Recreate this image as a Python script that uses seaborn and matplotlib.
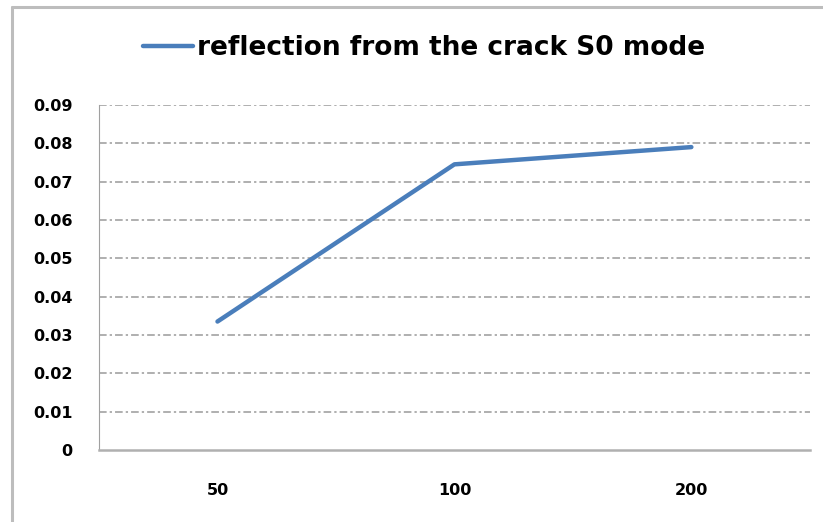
import matplotlib
matplotlib.use('Agg')
import matplotlib.pyplot as plt
import seaborn as sns
import pandas as pd
from matplotlib.lines import Line2D
from matplotlib.ticker import FixedLocator

categories = ['50', '100', '200']
values = [0.0335, 0.0745, 0.079]
series_name = 'reflection from the crack S0 mode'
y_ticks = [0, 0.01, 0.02, 0.03, 0.04, 0.05, 0.06, 0.07, 0.08, 0.09]
y_labels = ['0', '0.01', '0.02', '0.03', '0.04', '0.05', '0.06', '0.07', '0.08', '0.09']

df = pd.DataFrame({'freq': categories, 'value': values})

sns.set_style('white')
plt.rcParams['font.family'] = ['DejaVu Sans']
plt.rcParams['font.weight'] = 'bold'
plt.rcParams['text.color'] = 'black'
plt.rcParams['xtick.labelcolor'] = 'black'
plt.rcParams['ytick.labelcolor'] = 'black'

fig = plt.figure(figsize=(8.23, 5.22), dpi=100)
ax = fig.add_axes([0.1203, 0.138, 0.8637, 0.661])

sns.lineplot(data=df, x='freq', y='value', ax=ax, color='#4a7ebb', linewidth=3.2,
             label=series_name, sort=False)

ax.set_xlim(-0.5, 2.5)
ax.set_ylim(0, 0.09)
ax.set_yticks(y_ticks)
ax.set_yticklabels(y_labels)
ax.set_xticks(range(len(categories)))
ax.set_xticklabels(categories)
ax.xaxis.set_minor_locator(FixedLocator([-0.5, 0.5, 1.5, 2.5]))
ax.tick_params(axis='x', which='major', length=0, pad=24, labelsize=11.5)
ax.tick_params(axis='x', which='minor', length=5, color='#a0a0a0', width=1.2, direction='out')
ax.tick_params(axis='y', length=5, color='#a0a0a0', width=1, direction='out', pad=14, labelsize=11.5)
ax.set_xlabel('')
ax.set_ylabel('')

for y in y_ticks[1:]:
    ax.axhline(y, color='#9a9a9a', linewidth=1.1, linestyle=(0, (5, 2, 1.5, 2)), zorder=0)

for side in ['top', 'right']:
    ax.spines[side].set_visible(False)
ax.spines['left'].set_color('#a0a0a0')
ax.spines['bottom'].set_color('#b0b0b0')
ax.spines['bottom'].set_linewidth(1.8)

leg = ax.legend(loc='center', bbox_to_anchor=(0.515, 0.908), bbox_transform=fig.transFigure,
                frameon=False, handlelength=1.9, handletextpad=0.15,
                prop={'size': 19, 'weight': 'bold'})
for t in leg.get_texts():
    t.set_color('black')

# chart area frame (only top and left edges are inside the crop)
fig.add_artist(Line2D([0.0146, 1.0], [0.987, 0.987], transform=fig.transFigure,
                      color='#bdbdbd', linewidth=2.2))
fig.add_artist(Line2D([0.0146, 0.0146], [0.0, 0.987], transform=fig.transFigure,
                      color='#bdbdbd', linewidth=2.2))

fig.savefig('out.png', dpi=100)
